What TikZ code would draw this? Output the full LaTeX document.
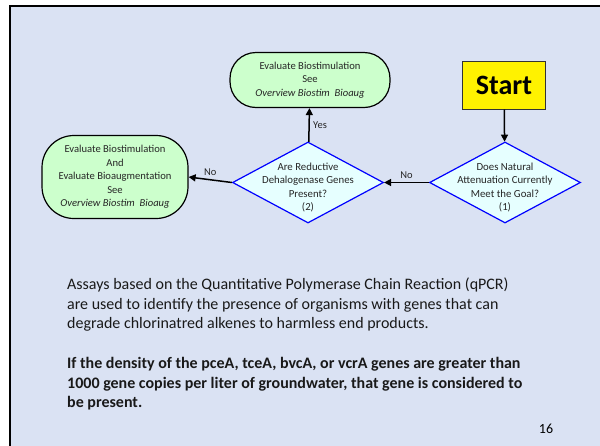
\documentclass[tikz,border=0pt]{standalone}
\usepackage{fontspec}
\setmainfont{Carlito}
\usetikzlibrary{shapes.geometric,arrows.meta}

\definecolor{slideblue}{RGB}{218,226,243}
\definecolor{termgreen}{RGB}{204,255,204}
\definecolor{qcyan}{RGB}{230,255,255}

\begin{document}
\begin{tikzpicture}[x=1pt,y=-1pt,
	endbox/.style={draw, line width=1.2pt, fill=termgreen, align=center, inner sep=0pt, text=black!85, font=\fontsize{10.6}{13.5}\selectfont},
	startbox/.style={draw=black!80, line width=1pt, fill=yellow, minimum width=83pt, minimum height=48pt, font=\bfseries\fontsize{28}{30}\selectfont},
	decision/.style={diamond, draw=blue, line width=1.2pt, fill=qcyan, minimum width=151pt, minimum height=81pt, inner sep=0pt},
	qtext/.style={align=center, font=\fontsize{10.8}{13.6}\selectfont, text=black!85},
	flow/.style={-{Triangle[length=7pt,width=7pt]}, line width=1.5pt},
	ans/.style={font=\fontsize{10.5}{12}\selectfont, text=black!85},
	para/.style={align=left, inner sep=0pt, text=black!90, font=\fontsize{16}{19.5}\selectfont}]
	
	% Fondo y marco
	\fill[white] (0,0) rectangle (600,445);
	\useasboundingbox (0,0) rectangle (600,445);
	\clip (0,0) rectangle (600,445);
	\draw[line width=2.5pt, fill=slideblue] (10,6) rectangle (612,460);
	
	% Nodo inicial
	\node[startbox] (start) at (504,85) {Start};
	
	% Decisiones
	\node[decision] (d1) at (505,182.5) {};
	\node[qtext] (d1text) at (505,187.5) {Does Natural\\Attenuation Currently\\Meet the Goal?\\(1)};
	\node[decision] (d2) at (308,182.5) {};
	\node[qtext] (d2text) at (308,187.5) {Are Reductive\\Dehalogenase Genes\\Present?\\(2)};
	
	% Resultados
	\node[endbox, rounded corners=26pt, minimum width=160pt, minimum height=55pt] (yesbox) at (310,80)
		{Evaluate Biostimulation\\See\\\textit{Overview Biostim\ \ Bioaug}};
	\node[endbox, rounded corners=32pt, minimum width=146pt, minimum height=83pt] (nobox) at (115,177)
		{Evaluate Biostimulation\\And\\Evaluate Bioaugmentation\\See\\\textit{Overview Biostim\ \ Bioaug}};
	
	% Flechas
	\draw[flow] (start) -- (d1);
	\draw[flow] (d1) -- (d2) node[ans, midway, above] {No};
	\draw[flow] (d2) -- (yesbox) node[ans, midway, right] {Yes};
	\draw[flow] (d2.west) -- (nobox.east) node[ans, midway, above] {No};
	
	% Texto
	\node[para, anchor=west] (assays) at (67,305)
		{Assays based on the Quantitative Polymerase Chain Reaction (qPCR)\\
		 are used to identify the presence of organisms with genes that can\\
		 degrade chlorinatred alkenes to harmless end products.};
	\node[para, anchor=west, font=\bfseries\fontsize{16}{19.5}\selectfont] (rule) at (67,384)
		{If the density of the pceA, tceA, bvcA, or vcrA genes are greater than\\
		 1000 gene copies per liter of groundwater, that gene is considered to\\
		 be present.};
	\node[font=\fontsize{14}{16}\selectfont] (pagenum) at (546,429) {16};
	
\end{tikzpicture}
\end{document}
